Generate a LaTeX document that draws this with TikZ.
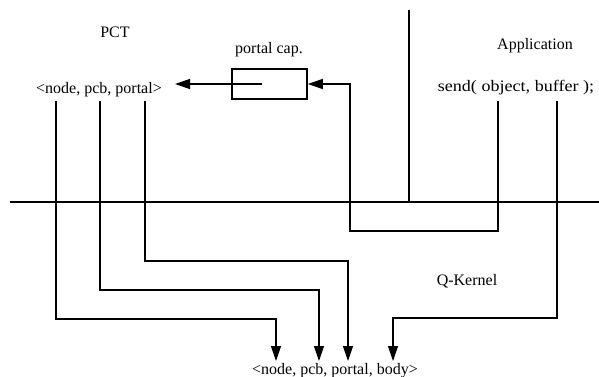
\documentclass[tikz,border=0pt]{standalone}
\usepackage{fontspec}
\setmainfont{Liberation Serif}
\usetikzlibrary{arrows.meta}
\begin{document}
\begin{tikzpicture}[x=1pt,y=-1pt,
  lbl/.style={font=\fontsize{16}{18}\selectfont, inner sep=0pt},
  wire/.style={line width=1.2pt, line join=miter},
  arr/.style={wire, -{Triangle[length=15pt,width=10pt]}},
  thick line/.style={line width=1.8pt}]
\useasboundingbox (0,0) rectangle (599,377);
% labels
\node[lbl] (pct) at (115,32) {PCT};
\node[lbl] (tupA) at (99,90) {<node, pcb, portal>};
\node[lbl] (cap) at (269,50) {portal cap.};
\node[draw, line width=1.6pt, minimum width=75pt, minimum height=30pt, inner sep=0pt] (capbox) at (269.5,84) {};
\node[lbl] (app) at (535,46) {Application};
\node[lbl] (send) at (516,88) {\scalebox{1.13}[1]{send( object, buffer );}};
\node[lbl] (qk) at (467,281) {Q-Kernel};
\node[lbl] (tupB) at (335,371) {<node, pcb, portal, body>};
% boundary lines
\coordinate (kl) at (10,202);
\coordinate (kr) at (599,202);
\coordinate (dt) at (409,10);
\draw[thick line] (kl) -- (kr);
\draw[thick line] (dt) -- (dt |- kl);
% start points
\coordinate (a1) at (56,101);
\coordinate (a2) at (100,101);
\coordinate (a3) at (145,101);
\coordinate (s1) at (498,101);
\coordinate (s2) at (557,101);
% end points
\coordinate (b1) at (276,361);
\coordinate (b2) at (319,361);
\coordinate (b3) at (348,361);
\coordinate (b4) at (393,361);
\coordinate (capin) at (262,84);
\coordinate (pcttip) at (175,84);
% connectors
\draw[arr] (a1) -- (a1 |- 0,319) -- (b1 |- 0,319) -- (b1);
\draw[arr] (a2) -- (a2 |- 0,290) -- (b2 |- 0,290) -- (b2);
\draw[arr] (a3) -- (a3 |- 0,261) -- (b3 |- 0,261) -- (b3);
\draw[arr] (s2) -- (s2 |- 0,318) -- (b4 |- 0,318) -- (b4);
\draw[arr] (s1) -- (s1 |- 0,231) -- (350,231) -- (350,84) -- (capbox.east);
\draw[arr] (capin) -- (pcttip);
\end{tikzpicture}
\end{document}
